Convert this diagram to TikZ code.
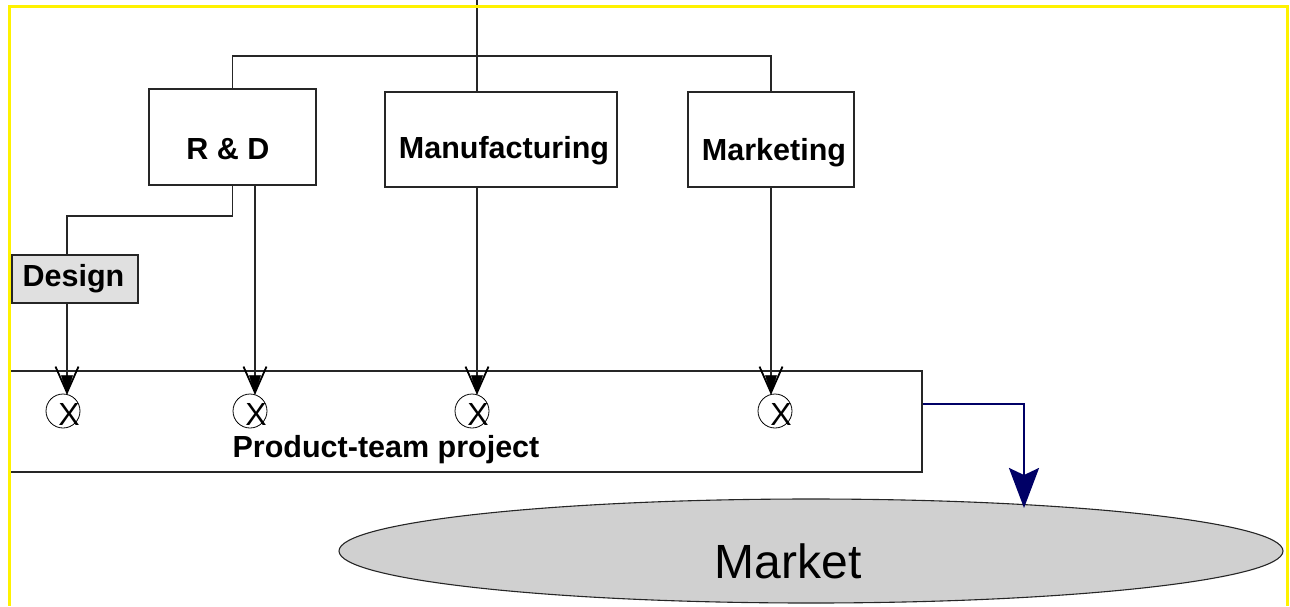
\documentclass[tikz,border=0pt]{standalone}
\usepackage{fontspec}
\setmainfont{Liberation Sans}
\usetikzlibrary{arrows.meta,shapes.geometric,calc}

\pgfdeclarearrow{
  name = VTip,
  setup code = {
    \pgfarrowssettipend{0pt}
    \pgfarrowssetlineend{-12pt}
    \pgfarrowssetvisualbackend{-27pt}
    \pgfarrowssetbackend{-27pt}
    \pgfarrowshullpoint{0pt}{0pt}
    \pgfarrowshullpoint{-27pt}{11.5pt}
    \pgfarrowshullpoint{-27pt}{-11.5pt}
  },
  drawing code = {
    \pgfsetdash{}{0pt}
    \pgfsetlinewidth{1.8pt}
    \pgfsetmiterjoin
    \pgfsetstrokecolor{black}
    \pgfsetfillcolor{black}
    \pgfpathmoveto{\pgfpoint{-27pt}{11.5pt}}
    \pgfpathlineto{\pgfpoint{-1pt}{0pt}}
    \pgfpathlineto{\pgfpoint{-27pt}{-11.5pt}}
    \pgfusepathqstroke
    \pgfsetlinewidth{0.6pt}
    \pgfpathmoveto{\pgfpointorigin}
    \pgfpathlineto{\pgfpoint{-18pt}{5.5pt}}
    \pgfpathlineto{\pgfpoint{-18pt}{-5.5pt}}
    \pgfpathclose
    \pgfusepathqfillstroke
  }
}

\definecolor{navyline}{RGB}{0,0,102}
\definecolor{designfill}{RGB}{224,224,224}
\definecolor{marketfill}{RGB}{208,208,208}

\tikzset{
  unitbox/.style={draw=black!85, line width=1.1pt, inner sep=0pt},
  boxlabel/.style={inner sep=0pt, anchor=base, font=\fontsize{30.5}{34}\selectfont\bfseries},
  conn/.style={draw=black!85, line width=1.1pt},
  xcirc/.style={circle, draw=black, line width=0.8pt, minimum size=34pt, inner sep=0pt},
  xlab/.style={inner sep=0pt, font=\fontsize{32}{36}\selectfont},
  blueconn/.style={draw=navyline, line width=2.5pt, -{Stealth[length=40pt,width=30pt,inset=7pt]}},
}

\begin{document}
\begin{tikzpicture}[x=1pt,y=-1pt]
\useasboundingbox (0,0) rectangle (1290,606);

% boxes
\node[unitbox, minimum width=167pt, minimum height=96pt] (rd) at (232.5,137) {};
\node[unitbox, minimum width=232pt, minimum height=95pt] (mfg) at (501,139.5) {};
\node[unitbox, minimum width=166pt, minimum height=95pt] (mkt) at (771,139.5) {};
\node[unitbox, fill=designfill, minimum width=126pt, minimum height=48pt] (design) at (75,279) {};
\node[unitbox, minimum width=912pt, minimum height=101pt] (ptp) at (466,421.5) {};
\node[ellipse, draw=black!85, line width=1.1pt, fill=marketfill, minimum width=944pt, minimum height=104pt, inner sep=0pt] (market) at (811,551) {};

% labels
\node[boxlabel] (rdl) at (228,159) {R \& D};
\node[boxlabel] (mfgl) at (504,158) {Manufacturing};
\node[boxlabel] (mktl) at (774,160) {Marketing};
\node[boxlabel] (desl) at (73.5,286) {Design};
\node[boxlabel] (ptpl) at (386,457) {Product-team project};
\node[inner sep=0pt, anchor=base, font=\fontsize{48}{52}\selectfont] (mktlab) at (788,578) {Market};

% circles
\node[xcirc] (c1) at (63,411) {};
\node[xcirc] (c2) at (250,411) {};
\node[xcirc] (c3) at (472,411) {};
\node[xcirc] (c4) at (775,411) {};
\node[xlab] (x1) at ([shift={(6,3)}]c1.center) {X};
\node[xlab] (x2) at ([shift={(6,3)}]c2.center) {X};
\node[xlab] (x3) at ([shift={(6,3)}]c3.center) {X};
\node[xlab] (x4) at ([shift={(6,3)}]c4.center) {X};

% coordinates
\coordinate (top) at (477,0);
\coordinate (hub) at (477,56);
\coordinate (dx) at (67,216);
\coordinate (r2) at (255,0);
\coordinate (mtip) at (1024,508);

% connectors
\draw[conn] (top) -- (top |- mfg.north);
\draw[conn] (rd.north) |- (hub) -| (mkt.north);
\draw[conn] (rd.south) |- (dx) -- (dx |- design.north);
\draw[conn,-VTip] (dx |- design.south) -- (dx |- c1.north);
\draw[conn,-VTip] (r2 |- rd.south) -- (r2 |- c2.north);
\draw[conn,-VTip] (top |- mfg.south) -- (top |- c3.north);
\draw[conn,-VTip] (mkt.south) -- (mkt.south |- c4.north);
\draw[blueconn] ([yshift=17.5pt]ptp.east) -| (mtip);

% frame
\draw[yellow, line width=3pt] (9,606) -- (9,6.5) -- (1287,6.5) -- (1287,606);
\end{tikzpicture}
\end{document}
